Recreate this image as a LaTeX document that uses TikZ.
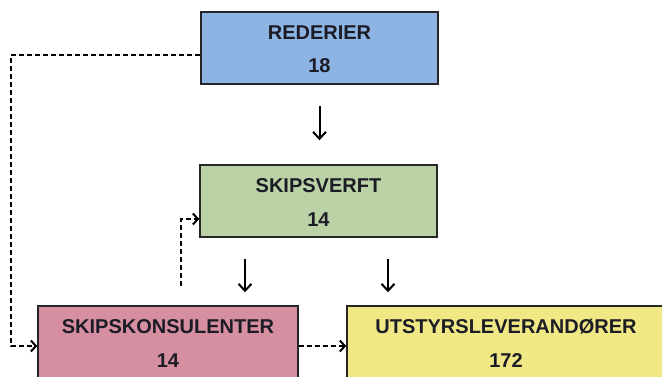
\documentclass[tikz,border=0pt]{standalone}
\usepackage{fontspec}
\setmainfont{Liberation Sans}
\usetikzlibrary{arrows.meta,calc}
\definecolor{cblue}{RGB}{141,180,226}
\definecolor{cgreen}{RGB}{186,210,165}
\definecolor{cpink}{RGB}{214,143,160}
\definecolor{cyellow}{RGB}{240,232,132}
\definecolor{textc}{RGB}{28,28,38}
\begin{document}
\begin{tikzpicture}[x=1pt,y=-1pt,
  box/.style={draw=black!85,line width=1.5pt,minimum height=72pt,inner sep=0pt},
  txt/.style={anchor=base,font=\fontsize{20}{21}\selectfont\bfseries,text=textc,inner sep=0pt},
  solidarr/.style={line width=2pt,-{Straight Barb[length=7pt,width=13pt]}},
  dasharr/.style={line width=2pt,dash pattern=on 5pt off 3pt,-{Straight Barb[length=5pt,width=11pt]}}
]
\useasboundingbox (0,0) rectangle (662,376);
\clip (0,0) rectangle (662,376);

\node[box,fill=cblue,minimum width=237pt] (rederier) at (319.5,48) {};
\node[txt] (rederierL) at (319.5,39) {REDERIER};
\node[txt] (rederierN) at (319.5,72) {18};

\node[box,fill=cgreen,minimum width=237pt] (skipsverft) at (318.5,201) {};
\node[txt] (skipsverftL) at (318.5,192) {SKIPSVERFT};
\node[txt] (skipsverftN) at (318.5,226) {14};

\node[box,fill=cpink,minimum width=260pt] (konsulent) at (168,342) {};
\node[txt] (konsulentL) at (168,333) {SKIPSKONSULENTER};
\node[txt] (konsulentN) at (168,367) {14};

\node[box,fill=cyellow,minimum width=318pt] (utstyr) at (506,342) {};
\node[txt] (utstyrL) at (506,333) {UTSTYRSLEVERANDØRER};
\node[txt] (utstyrN) at (506,367) {172};

\draw[solidarr,shorten <=21pt,shorten >=24pt] (rederier.south) -- (rederier.south |- skipsverft.north);
\draw[solidarr,shorten <=21pt,shorten >=13pt] ([xshift=-73.5pt]skipsverft.south) -- ([xshift=-73.5pt]skipsverft.south |- konsulent.north);
\draw[solidarr,shorten <=21pt,shorten >=13pt] ([xshift=69.5pt]skipsverft.south) -- ([xshift=69.5pt]skipsverft.south |- utstyr.north);

\draw[dasharr] ([yshift=-7pt]rederier.west) -- ++(-189,0) |- ([yshift=-4pt]konsulent.west);
\draw[dasharr] ([xshift=13pt,yshift=19pt]konsulent.north) |- ([yshift=-18pt]skipsverft.west);
\draw[dasharr] ([yshift=-4pt]konsulent.east) -- ([yshift=-4pt]konsulent.east -| utstyr.west);
\end{tikzpicture}
\end{document}
